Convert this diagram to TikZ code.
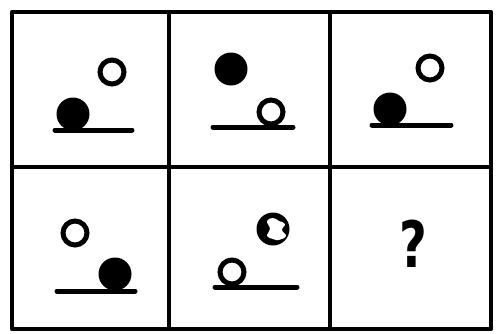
\documentclass[tikz,border=0pt]{standalone}
\usepackage{fontspec}
\newfontfamily\queryfont{DejaVu Sans}
\usetikzlibrary{positioning}

\begin{document}
\begin{tikzpicture}[
    x=1pt, y=-1pt,
    frame/.style={line width=4.5pt, line join=round},
    ring/.style={circle, draw, line width=5pt, minimum size=24pt, inner sep=0pt},
    ball/.style={circle, fill=black, minimum size=33pt, inner sep=0pt},
    floor/.style={line width=5pt, line cap=round}
]
\useasboundingbox (0,0) rectangle (499,333);

% === Grid ===
\draw[frame] (12,12) rectangle (491,329);
\draw[frame] (169,12) -- (169,329);
\draw[frame] (330,12) -- (330,329);
\draw[frame] (12,167) -- (491,167);

% === Top row ===
% cell 1
\node[ring] (ringA) at (112,72) {};
\node[ball] (ballA) at (73,114) {};
\coordinate (floorAl) at (55,130);
\coordinate (floorAr) at (132,130);
\draw[floor] (floorAl) -- (floorAr);

% cell 2
\node[ball] (ballB) at (231,69) {};
\node[ring] (ringB) at (271,112) {};
\coordinate (floorBl) at (213,127);
\coordinate (floorBr) at (293,127);
\draw[floor] (floorBl) -- (floorBr);

% cell 3
\node[ring] (ringC) at (430,68) {};
\node[ball] (ballC) at (390,109) {};
\coordinate (floorCl) at (372,125);
\coordinate (floorCr) at (451,125);
\draw[floor] (floorCl) -- (floorCr);

% === Bottom row ===
% cell 4
\node[ring] (ringD) at (75,233) {};
\node[ball] (ballD) at (115,274) {};
\coordinate (floorDl) at (57,291);
\coordinate (floorDr) at (135,291);
\draw[floor] (floorDl) -- (floorDr);

% cell 5
\node[ball] (ballE) at (273,229) {};
\fill[white] plot[smooth cycle, tension=0.7] coordinates
    {(267,221) (273,218) (279,221) (285,224) (282,230) (286,236) (279,240) (273,239) (267,236) (270,229)};
\node[ring] (ringE) at (232,272) {};
\coordinate (floorEl) at (215,287);
\coordinate (floorEr) at (297,287);
\draw[floor] (floorEl) -- (floorEr);

% cell 6
\node[font=\queryfont\bfseries\fontsize{64}{66}\selectfont, inner sep=0pt, transform shape, xscale=0.75] (query) at (413,244) {?};

\end{tikzpicture}
\end{document}
